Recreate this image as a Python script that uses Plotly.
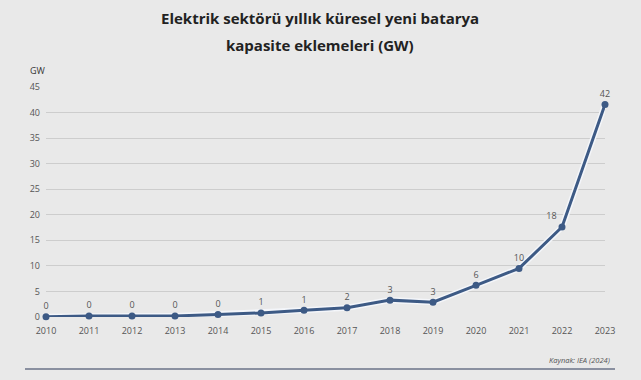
import plotly.graph_objects as go

years = list(range(2010, 2024))
values = [0.05, 0.2, 0.2, 0.2, 0.5, 0.8, 1.3, 1.8, 3.3, 2.9, 6.2, 9.5, 17.6, 41.6]
labels = ["0", "0", "0", "0", "0", "1", "1", "2", "3", "3", "6", "10", "18", "42"]
label_pos = ["top center"] * 12 + ["top left", "top center"]
y_ticks = [0, 5, 10, 15, 20, 25, 30, 35, 40, 45]

BG = "#e9e9e9"
LINE = "#3d5a85"

fig = go.Figure()
# light halo under the line
fig.add_trace(go.Scatter(x=years, y=values, mode="lines",
                         line=dict(color="#f4f6fa", width=6),
                         hoverinfo="skip", showlegend=False, cliponaxis=False))
fig.add_trace(go.Scatter(x=years, y=values, mode="lines+markers+text",
                         line=dict(color=LINE, width=3),
                         marker=dict(color=LINE, size=7),
                         text=labels, textposition=label_pos,
                         textfont=dict(family="Open Sans", size=9, color="#555"),
                         showlegend=False, cliponaxis=False))

fig.update_layout(
    width=641, height=380,
    paper_bgcolor=BG, plot_bgcolor=BG,
    margin=dict(l=46, r=36, t=87, b=63),
    xaxis=dict(range=[2010, 2023], tickmode="array", tickvals=years,
               ticktext=[str(y) for y in years], showgrid=False, zeroline=False,
               showline=False, ticks="", ticklabelstandoff=7,
               tickfont=dict(family="Open Sans", size=9, color="#555")),
    yaxis=dict(range=[0, 45], tickmode="array", tickvals=y_ticks,
               ticktext=[str(v) for v in y_ticks], showgrid=True, gridcolor="#cdcdcd",
               gridwidth=1, zeroline=False, showline=False, ticks="",
               ticklabelstandoff=5,
               tickfont=dict(family="Open Sans", size=9, color="#555")),
    annotations=[
        dict(text="<b>Elektrik sektörü yıllık küresel yeni batarya</b>", xref="paper", yref="paper",
             x=(320 - 46) / 559, y=(317 - 18) / 230, xanchor="center", yanchor="middle",
             showarrow=False, font=dict(family="Open Sans", size=15, color="#222")),
        dict(text="<b>kapasite eklemeleri (GW)</b>", xref="paper", yref="paper",
             x=(320 - 46) / 559, y=(317 - 45) / 230, xanchor="center", yanchor="middle",
             showarrow=False, font=dict(family="Open Sans", size=15, color="#222")),
        dict(text="GW", xref="paper", yref="paper", x=(38 - 46) / 559, y=(317 - 70) / 230,
             xanchor="center", yanchor="middle", showarrow=False,
             font=dict(family="Open Sans", size=9, color="#333")),
        dict(text="<i>Kaynak: IEA (2024)</i>", xref="paper", yref="paper", x=(612 - 46) / 559,
             y=(317 - 360) / 230, xanchor="right", yanchor="middle", showarrow=False,
             font=dict(family="Open Sans", size=7.5, color="#555")),
    ],
    shapes=[dict(type="line", xref="paper", yref="paper", x0=(25 - 46) / 559, x1=(615 - 46) / 559,
                 y0=(317 - 369) / 230, y1=(317 - 369) / 230, line=dict(color="#8a90a0", width=2))],
)

fig.write_html("out.html")
